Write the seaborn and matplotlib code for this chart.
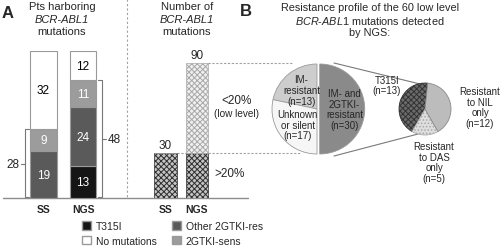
import numpy as np
import matplotlib.pyplot as plt
import matplotlib.transforms as mtransforms
from matplotlib.patches import Patch
import seaborn as sns

# --- DATA ---
pts_methods = ["SS", "NGS"]
pts_t315i = [0, 13]
pts_other_res = [19, 24]
pts_sens = [9, 11]
pts_no_mut = [32, 12]
pts_mutated = [28, 48]

mut_methods = ["SS", "NGS"]
mut_high = [30, 30]   # >20%
mut_low = [0, 60]     # <20% (low level)

low_groups = ["IM- and\n2GTKI-\nresistant\n(n=30)", "IM-\nresistant\n(n=13)", "Unknown\nor silent\n(n=17)"]
low_counts = [30, 13, 17]

gtki_groups = ["T315I\n(n=13)", "Resistant\nto DAS\nonly\n(n=5)", "Resistant\nto NIL\nonly\n(n=12)"]
gtki_counts = [13, 5, 12]

legend_labels = ["T315I", "No mutations", "Other 2GTKI-res", "2GTKI-sens"]

# --- STYLE ---
sns.set_style("white")
plt.rcParams['font.family'] = ['Liberation Sans', 'DejaVu Sans']
plt.rcParams['hatch.linewidth'] = 0.7
plt.rcParams['mathtext.fontset'] = 'custom'
plt.rcParams['mathtext.rm'] = 'Liberation Sans'
plt.rcParams['mathtext.it'] = 'Liberation Sans:italic'

C_T315I = '#151515'
C_OTHER = '#5a5a5a'
C_SENS = '#9c9c9c'
C_NONE = 'white'
EDGE = '#9a9a9a'
GRID = '#a0a0a0'

W, H = 500, 253
fig = plt.figure(figsize=(5, 2.53), dpi=100)


def px_axes(x0, y0, x1, y1):
    return fig.add_axes([x0 / W, 1 - y1 / H, (x1 - x0) / W, (y1 - y0) / H])


# overlay in pixel coords for text / guide lines
ax0 = fig.add_axes([0, 0, 1, 1])
ax0.set_xlim(0, W)
ax0.set_ylim(H, 0)
ax0.set_axis_off()

# --- A: patients harboring mutations (stacked) ---
ax1 = px_axes(3, 52, 123, 199)
segments = [(pts_t315i, C_T315I, 'white'), (pts_other_res, C_OTHER, 'white'),
            (pts_sens, C_SENS, 'white'), (pts_no_mut, C_NONE, 'black')]
bottom = np.zeros(len(pts_methods))
for vals, col, tcol in segments:
    sns.barplot(x=pts_methods, y=vals, bottom=bottom, color=col, saturation=1,
                width=0.68, edgecolor=EDGE, linewidth=0.8, errorbar=None, ax=ax1)
    for i, v in enumerate(vals):
        if v:
            ax1.text(i, bottom[i] + v / 2, str(v), ha='center', va='center',
                     color=tcol, fontsize=8.5)
    bottom += np.array(vals)
ax1.set_xlim(-1.026, 2.013)
ax1.set_ylim(0, 60)
ax1.set_axis_off()

# brackets (x in pixels, y in data)
tr1 = mtransforms.blended_transform_factory(ax0.transData, ax1.transData)
for xb, d, n in [(25, 1, pts_mutated[0]), (102, -1, pts_mutated[1])]:
    ax0.plot([xb + 4 * d, xb, xb, xb + 4 * d], [0.6, 0.6, n, n], color='#777777',
             lw=0.8, transform=tr1)
    ax0.plot([xb, xb - 4 * d], [n / 2, n / 2], color='#777777', lw=0.8, transform=tr1)
    ax0.text(xb - 12 * d, n / 2, str(n), ha='center', va='center', fontsize=8.5,
             transform=tr1)

# --- A: number of mutations ---
ax2 = px_axes(127, 64, 250, 199)
sns.barplot(x=mut_methods, y=mut_high, color='#c4c4c4', saturation=1, width=0.70,
            hatch='xxxxxx', edgecolor='#2e2e2e', linewidth=0.5, errorbar=None, ax=ax2)
sns.barplot(x=mut_methods, y=mut_low, bottom=mut_high, color='#f0f0f0', saturation=1,
            width=0.70, hatch='xxxxxx', edgecolor='#a8a8a8', linewidth=0.5,
            errorbar=None, ax=ax2)
for i, (h, l) in enumerate(zip(mut_high, mut_low)):
    ax2.text(i, h + l + 1.5, str(h + l), ha='center', va='bottom', fontsize=8.5)
ax2.set_xlim(-1.222, 2.683)
ax2.set_ylim(0, 90)
ax2.set_axis_off()

tr2 = mtransforms.blended_transform_factory(ax0.transData, ax2.transData)
ax0.plot([208, 292], [mut_high[1] + mut_low[1]] * 2, color=GRID, lw=0.8,
         ls=(0, (2, 1.5)), transform=tr2)
ax0.plot([177, 300], [mut_high[0]] * 2, color=GRID, lw=0.8,
         ls=(0, (2, 1.5)), transform=tr2)

ax0.text(237, 101, "<20%", ha='center', va='center', fontsize=8.5)
ax0.text(237, 114, "(low level)", ha='center', va='center', fontsize=7.2)
ax0.text(230, 174, ">20%", ha='center', va='center', fontsize=8.5)

# axis base line and separator
ax0.plot([3, 248], [199, 199], color='#8c8c8c', lw=1)
ax0.plot([127, 127], [0, 199], color=GRID, lw=0.8, ls=(0, (2, 2)))

# category labels
for ax, cats in [(ax1, pts_methods), (ax2, mut_methods)]:
    trx = mtransforms.blended_transform_factory(ax.transData, ax0.transData)
    for i, c in enumerate(cats):
        ax0.text(i, 210, c, ha='center', va='center', fontsize=7.5,
                 fontweight='bold', transform=trx)

# titles
ax0.text(8, 13, "A", ha='center', va='center', fontsize=12, fontweight='bold')
ax0.text(62, 7, "Pts harboring", ha='center', va='center', fontsize=8)
ax0.text(62, 20, "BCR-ABL1", ha='center', va='center', fontsize=8, style='italic')
ax0.text(62, 32, "mutations", ha='center', va='center', fontsize=8)
ax0.text(187, 7, "Number of", ha='center', va='center', fontsize=8)
ax0.text(187, 20, "BCR-ABL1", ha='center', va='center', fontsize=8, style='italic')
ax0.text(187, 32, "mutations", ha='center', va='center', fontsize=8)
ax0.text(246, 11, "B", ha='center', va='center', fontsize=12, fontweight='bold')
ax0.text(370, 8, "Resistance profile of the 60 low level", ha='center', va='center',
         fontsize=7.8)
ax0.text(370, 21, r"$\mathit{BCR}$-$\mathit{ABL1}$ mutations detected", ha='center',
         va='center', fontsize=7.8)
ax0.text(370, 33, "by NGS:", ha='center', va='center', fontsize=7.8)

# legend
handles = [Patch(facecolor=C_T315I, edgecolor=EDGE), Patch(facecolor=C_NONE, edgecolor=EDGE),
           Patch(facecolor=C_OTHER, edgecolor=EDGE), Patch(facecolor=C_SENS, edgecolor=EDGE)]
ax0.legend(handles, legend_labels, ncol=2, loc='upper left', bbox_to_anchor=(82, 222),
           bbox_transform=ax0.transData, frameon=False, fontsize=7.5, handlelength=0.9,
           handleheight=0.9, handletextpad=0.4, columnspacing=1.5, labelspacing=0.45,
           borderpad=0, borderaxespad=0)

# --- B: connector lines ---
ax0.plot([334, 420], [64, 85], color='#7a7a7a', lw=0.8)
ax0.plot([334, 418], [157, 135], color='#7a7a7a', lw=0.8)

# big pie
cx, cy, r = 317, 110, 45
axp1 = px_axes(cx - 1.1 * r, cy - 1.1 * r, cx + 1.1 * r, cy + 1.1 * r)
axp1.pie(low_counts, labels=low_groups, startangle=-90, counterclock=True,
         colors=['#8a8a8a', '#cdcdcd', '#f6f6f6'], explode=[0.06, 0, 0],
         labeldistance=0.55,
         wedgeprops=dict(edgecolor='#9a9a9a', linewidth=0.6),
         textprops=dict(fontsize=7, ha='center', va='center', linespacing=1.1))
axp1.set_xlim(-1.1, 1.1)
axp1.set_ylim(-1.1, 1.1)
axp1.set_axis_off()

# small pie
cx2, cy2, r2 = 425, 110, 26
axp2 = px_axes(cx2 - 1.1 * r2, cy2 - 1.1 * r2, cx2 + 1.1 * r2, cy2 + 1.1 * r2)
wedges, _ = axp2.pie(gtki_counts, startangle=84, counterclock=True,
                     colors=['#6a6a6a', '#dedede', '#bcbcbc'],
                     wedgeprops=dict(edgecolor='#8a8a8a', linewidth=0.6))
wedges[0].set_hatch('xxxxxx')
wedges[0].set_edgecolor('#333333')
wedges[1].set_hatch('.....')
wedges[1].set_edgecolor('#a8a8a8')
axp2.set_xlim(-1.1, 1.1)
axp2.set_ylim(-1.1, 1.1)
axp2.set_axis_off()

ax0.text(387, 86, gtki_groups[0], ha='center', va='center', fontsize=7, linespacing=1.1)
ax0.text(434, 163, gtki_groups[1], ha='center', va='center', fontsize=7, linespacing=1.05)
ax0.text(480, 108, gtki_groups[2], ha='center', va='center', fontsize=7, linespacing=1.05)

plt.savefig("out.png", dpi=100)
